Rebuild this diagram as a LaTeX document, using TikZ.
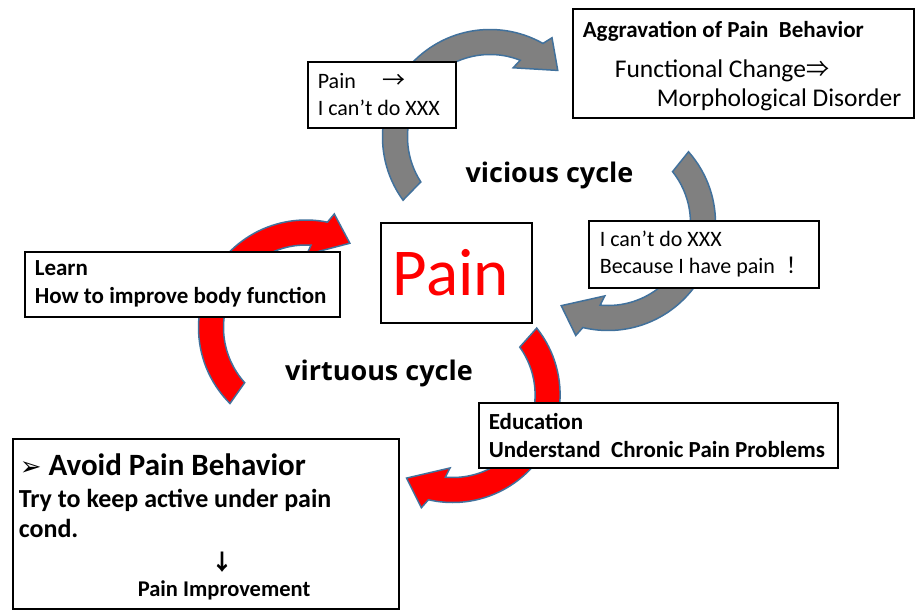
\documentclass[tikz,border=0pt]{standalone}
\usepackage{fontspec}
\setmainfont{Carlito}
\newfontfamily\symfont{DejaVu Sans}
\newfontfamily\cjkfont{Noto Sans CJK JP}
\newfontfamily\cyclefont{Open Sans}
\definecolor{arrowblue}{RGB}{65,113,156}
\definecolor{arrowgray}{RGB}{128,128,128}
\definecolor{arrowred}{RGB}{255,0,0}
\tikzset{
  cyc/.style={draw=arrowblue, line width=1.5pt, line join=miter},
  box/.style={draw=black, line width=1.6pt, fill=white, anchor=north west, align=flush left, inner ysep=0pt},
  txt/.style={font=\fontsize{22}{27}\selectfont},
  btxt/.style={font=\fontsize{23}{28}\selectfont\bfseries},
  cyclelabel/.style={font=\cyclefont\fontsize{27}{30}\selectfont\bfseries, inner sep=0pt}
}
\newcommand{\cycarrow}[5]{%
  \pgfmathsetmacro\caA{#3+1.5}\pgfmathsetmacro\caB{#4-4}%
  \pgfmathsetmacro\caC{#4-6.5}\pgfmathsetmacro\caD{#4-20}%
  \pgfmathsetmacro\caE{#4+7}\pgfmathsetmacro\caF{#4+4}\pgfmathsetmacro\caG{#3-1.5}%
  \begin{scope}[shift={(#1,-#2)}]
    \filldraw[cyc, fill=#5] (\caA:107.5) arc[start angle=\caA, end angle=\caB, radius=107.5]
      -- (\caC:117) -- (\caD:95) -- (\caE:73) -- (\caF:82.5)
      arc[start angle=\caF, end angle=\caG, radius=82.5] -- cycle;
  \end{scope}}
\begin{document}
\begin{tikzpicture}[x=1pt,y=1pt]
\useasboundingbox (0,0) rectangle (916,-610);
\fill[white] (0,0) rectangle (916,-610);
% cycle arrows
\cycarrow{490}{137}{214.5}{64.5}{arrowgray}
\cycarrow{608}{223}{40}{-99.5}{arrowgray}
\cycarrow{306}{327.5}{223.5}{82.5}{arrowred}
\cycarrow{452.6}{395}{37}{-99}{arrowred}
% boxes
\node[box, txt, inner xsep=10pt, text width=128pt, minimum height=66pt] (painbox) at (307,-61)
  {Pain\hspace{27pt}{\cjkfont\fontsize{23}{27}\selectfont →}\\I can’t do XXX};
\node[box, inner xsep=10pt, text width=321pt, minimum height=109pt, font=\fontsize{25.5}{29}\selectfont] (aggr) at (572,-8)
  {{\fontsize{23}{27}\selectfont\bfseries\rule{0pt}{21pt}Aggravation of Pain\ \ Behavior}\\[11pt]
   \hspace*{32pt}Functional Change{\cjkfont\fontsize{23}{29}\selectfont ⇒}\\
   \hspace*{74pt}Morphological Disorder};
\node[box, txt, inner xsep=11pt, text width=208pt, minimum height=67pt] (because) at (588,-220)
  {I can’t do XXX\\Because I have pain\hspace{5pt}{\cjkfont ！}};
\node[box, inner xsep=12pt, text width=127pt, minimum height=100pt,
  text=red, font=\fontsize{67}{70}\selectfont] (pain) at (380,-222) {Pain};
\node[box, btxt, inner xsep=10pt, text width=295pt, minimum height=65pt] (learn) at (24,-251)
  {Learn\\How to improve body function};
\node[box, btxt, inner xsep=10pt, text width=339pt, minimum height=65pt] (edu) at (478,-402)
  {Education\\Understand\ \ Chronic Pain Problems};
\node[box, inner xsep=6pt, text width=374pt, minimum height=170pt, font=\fontsize{26}{30.5}\selectfont\bfseries] (avoid) at (12,-438)
  {{\fontsize{31}{32}\selectfont\rule{0pt}{28pt}\hspace*{1pt}{\symfont\fontsize{26}{32}\selectfont ➢}\ Avoid Pain Behavior}\\[1pt]
   Try to keep active under pain\\
   cond.\\[2pt]
   \hspace*{193pt}{\cjkfont\fontsize{22}{30}\selectfont ↓}\\[-4pt]
   \hspace*{119pt}{\fontsize{22.5}{30}\selectfont Pain Improvement}};
% cycle labels
\node[cyclelabel] (vicious) at (549.5,-175) {vicious cycle};
\node[cyclelabel] (virtuous) at (379,-373) {virtuous cycle};
\end{tikzpicture}
\end{document}
